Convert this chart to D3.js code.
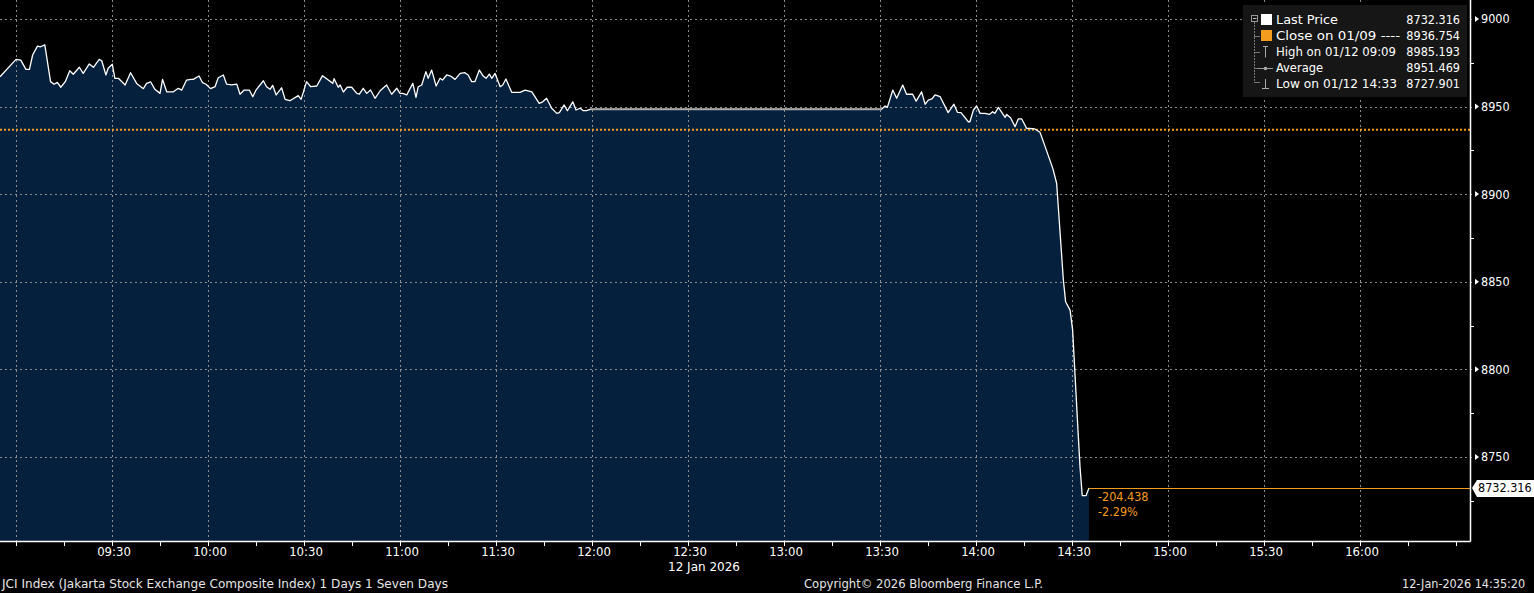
<!DOCTYPE html>
<html>
<head>
<meta charset="utf-8">
<script src="https://cdn.jsdelivr.net/npm/d3@7"></script>
<style>
  html, body { margin: 0; padding: 0; background: #000; }
  svg { display: block; }
  text { font-family: "DejaVu Sans Condensed", "DejaVu Sans", sans-serif; font-stretch: condensed; }
</style>
</head>
<body>
<svg id="chart" width="1534" height="593"></svg>
<script>
// ---------- DATA ----------
// minutes after 09:00 (12 Jan 2026, Jakarta time)
const minutes = [-5,0,1.5,3.1,4.2,5.2,6.7,7.7,9,10.8,11.9,12.9,14,15.4,16.8,17.9,19.8,21,22.9,24.2,26,26.8,28.1,28.8,30.1,30.9,32,34.1,35.8,37.7,39.8,40.8,42.1,43.4,45,45.8,47.1,49.2,50.7,51.8,53.3,54.6,55.4,57.2,58.3,59.4,60.8,62.2,63.2,64.8,65.8,67.4,69,70,71.3,72.9,74,75,77.3,78.3,79.4,80.2,81.3,83,84.1,85.6,88.2,89.1,90.8,92.1,94,95.8,97.6,99,99.4,100.7,101.3,102.3,103.5,104.9,106.5,107.3,108.5,109.6,110.8,112.2,113.8,115.8,117.4,119,120,120.8,122.1,124,125,125.7,126.8,128.1,128.8,129.9,131.3,132.5,133.3,134.6,135.8,137.2,138.8,140.3,141.3,142.4,143.4,144.8,146,146.9,147.9,148.7,149.7,151.3,152.1,153.1,154.9,157.5,159.1,161.2,163.5,164.6,165.8,167.4,169,169.8,171.3,172.3,174,175,176.3,177.3,178.3,179.4,270.5,271.6,272.3,274,275.2,277.1,278.3,280.2,281.3,283,284.1,285.1,286.2,287.2,288.8,291.3,293.1,294.2,295.3,297.6,298.1,299.2,300.2,301.3,302.8,304.2,305.2,305.9,307,309.1,309.6,310.8,312.2,313.2,314.3,315.8,318.4,320,321.6,324,325.2,326,327.3,328,329.4,330.2,331.7,332.5,333.2,334.4,335.3];
const prices = [8967.0,8976.9,8976.5,8971.2,8971.2,8979.4,8984.5,8984.1,8985.2,8964.2,8962.7,8963.8,8961.0,8964.2,8970.4,8968.4,8972.4,8968.9,8974.3,8972.4,8976.9,8976.1,8968.0,8971.8,8974.1,8966.1,8966.1,8962.3,8969.3,8963.2,8960.2,8963.2,8964.0,8959.8,8957.5,8965.5,8958.4,8958.4,8960.4,8959.4,8965.1,8965.5,8965.5,8967.4,8963.6,8962.7,8960.2,8961.3,8966.4,8968.0,8962.8,8962.3,8962.8,8957.0,8959.4,8959.4,8955.6,8959.4,8964.7,8961.3,8959.8,8962.1,8956.6,8960.7,8954.1,8953.3,8956.2,8954.1,8964.2,8961.3,8961.7,8967.6,8965.1,8963.2,8965.9,8961.0,8962.3,8958.3,8961.0,8961.0,8957.5,8957.1,8960.4,8957.5,8959.4,8954.7,8959.0,8962.3,8957.0,8960.4,8957.5,8957.5,8956.6,8963.2,8955.2,8961.3,8962.3,8969.9,8966.1,8970.8,8961.7,8966.1,8965.1,8968.0,8967.4,8965.5,8968.9,8969.3,8968.0,8964.2,8964.2,8970.8,8967.4,8966.1,8968.5,8966.1,8968.9,8961.3,8962.3,8965.7,8958.1,8958.1,8959.4,8958.4,8951.8,8952.7,8954.7,8949.0,8946.1,8946.5,8950.9,8947.6,8952.7,8948.0,8949.0,8947.6,8947.6,8948.4,8948.4,8950.3,8949.5,8959.4,8954.7,8962.3,8957.0,8957.0,8953.1,8958.4,8951.3,8953.7,8954.3,8956.6,8955.6,8946.5,8951.3,8946.7,8946.5,8941.3,8941.3,8948.0,8950.3,8946.1,8946.1,8945.5,8947.0,8946.1,8949.5,8943.8,8945.5,8943.6,8938.5,8942.9,8942.9,8937.6,8937.2,8935.3,8927.1,8914.7,8906.2,8885.2,8851.0,8838.6,8833.8,8822.4,8771.0,8744.4,8727.9,8727.9,8732.3];
const lunchBreak = [179.4, 270.5];          // flat, no-trading segment
const prevClose = 8936.754;
const lastPrice = 8732.316;
const changeLabels = ["-204.438", "-2.29%"];
const yTicks = [8750, 8800, 8850, 8900, 8950, 9000];
const yMinorTicks = [8725, 8775, 8825, 8875, 8925, 8975];
const xGridMinutes = [0,30,60,90,120,150,180,210,240,270,300,330,360,390,420];
const xTickLabels = ["09:30","10:00","10:30","11:00","11:30","12:00","12:30","13:00","13:30","14:00","14:30","15:00","15:30","16:00"];
const xTickLabelMinutes = [30,60,90,120,150,180,210,240,270,300,330,360,390,420];
const xMinorMinutes = d3.range(0, 451, 15);
const dateLabel = "12 Jan 2026";
const legendLabels = ["Last Price", "Close on 01/09 ----", "High on 01/12 09:09", "Average", "Low on 01/12 14:33"];
const legendValues = ["8732.316", "8936.754", "8985.193", "8951.469", "8727.901"];
const footerLeft = "JCI Index (Jakarta Stock Exchange Composite Index) 1 Days 1 Seven Days";
const footerMid = "Copyright\u00A9 2026 Bloomberg Finance L.P.";
const footerRight = "12-Jan-2026 14:35:20";

// ---------- LAYOUT ----------
const plotW = 1470, plotB = 541;
const svg = d3.select("#chart");
const x = d3.scaleLinear().domain([-5, 454.375]).range([0, plotW]);
const y = d3.scaleLinear().domain([8702.0, 9010.8]).range([plotB, 0]);
const data = minutes.map((m, i) => ({ m, v: prices[i] }));

const orange = "#f39c1e";
const gridCol = "#8c8c8c";

// area
svg.append("path").datum(data)
  .attr("fill", "#04203c")
  .attr("d", d3.area().x(d => x(d.m)).y0(plotB).y1(d => y(d.v)));

// grid
svg.append("g").selectAll("line").data(yTicks).join("line")
  .attr("x1", 0).attr("x2", plotW + 5)
  .attr("y1", d => Math.round(y(d)) + 0.5).attr("y2", d => Math.round(y(d)) + 0.5)
  .attr("stroke", gridCol).attr("stroke-width", 1).attr("stroke-dasharray", "2,3");
svg.append("g").selectAll("line").data(xGridMinutes).join("line")
  .attr("x1", d => Math.round(x(d)) + 0.5).attr("x2", d => Math.round(x(d)) + 0.5)
  .attr("y1", 0).attr("y2", plotB)
  .attr("stroke", gridCol).attr("stroke-width", 1).attr("stroke-dasharray", "2,3");

// previous close dotted line
svg.append("line")
  .attr("x1", 0).attr("x2", plotW)
  .attr("y1", y(prevClose)).attr("y2", y(prevClose))
  .attr("stroke", orange).attr("stroke-width", 2).attr("stroke-dasharray", "2,2");

// price line
const line = d3.line().x(d => x(d.m)).y(d => y(d.v));
svg.append("path").datum(data)
  .attr("fill", "none").attr("stroke", "#ffffff").attr("stroke-width", 1.3)
  .attr("stroke-linejoin", "round").attr("d", line);
// lunch break segment (grey)
svg.append("path").datum(data.filter(d => d.m >= lunchBreak[0] && d.m <= lunchBreak[1]))
  .attr("fill", "none").attr("stroke", "#a8a8a8").attr("stroke-width", 2).attr("d", line);

// last price line
const last = data[data.length - 1];
svg.append("line")
  .attr("x1", x(last.m)).attr("x2", plotW)
  .attr("y1", Math.round(y(lastPrice)) + 0.5).attr("y2", Math.round(y(lastPrice)) + 0.5)
  .attr("stroke", orange).attr("stroke-width", 1);
svg.append("g").selectAll("text").data(changeLabels).join("text")
  .attr("x", x(last.m) + 9).attr("y", (d, i) => y(lastPrice) + 13.5 + i * 15)
  .attr("fill", orange).attr("font-size", 12.5).text(d => d);

// axes frame
svg.append("line").attr("x1", 0).attr("x2", plotW + 0.5).attr("y1", plotB + 0.5).attr("y2", plotB + 0.5)
  .attr("stroke", "#fff").attr("stroke-width", 1.5);
svg.append("line").attr("x1", plotW + 0.5).attr("x2", plotW + 0.5).attr("y1", 0).attr("y2", plotB + 0.5)
  .attr("stroke", "#fff").attr("stroke-width", 1.5);

// x ticks
svg.append("g").selectAll("line").data(xMinorMinutes).join("line")
  .attr("x1", d => Math.round(x(d)) + 0.5).attr("x2", d => Math.round(x(d)) + 0.5)
  .attr("y1", plotB).attr("y2", plotB + 5).attr("stroke", "#fff").attr("stroke-width", 1);
svg.append("g").selectAll("text").data(xTickLabels).join("text")
  .attr("x", (d, i) => x(xTickLabelMinutes[i]) + 2).attr("y", 556)
  .attr("text-anchor", "middle").attr("fill", "#fff").attr("font-size", 13).text(d => d);
svg.append("text").attr("x", 668).attr("y", 571).attr("fill", "#fff").attr("font-size", 13)
  .attr("textLength", 72).attr("lengthAdjust", "spacingAndGlyphs").text(dateLabel);

// y ticks
svg.append("g").selectAll("line").data(yMinorTicks).join("line")
  .attr("x1", plotW).attr("x2", plotW + 4)
  .attr("y1", d => Math.round(y(d)) + 0.5).attr("y2", d => Math.round(y(d)) + 0.5)
  .attr("stroke", "#fff").attr("stroke-width", 1);
svg.append("g").selectAll("path").data(yTicks).join("path")
  .attr("d", d => { const yy = y(d); return `M${plotW + 5},${yy - 3}L${plotW + 9},${yy}L${plotW + 5},${yy + 3}Z`; })
  .attr("fill", "#fff");
svg.append("g").selectAll("text").data(yTicks).join("text")
  .attr("x", 1481).attr("y", d => y(d) + 4.5)
  .attr("fill", "#fff").attr("font-size", 12.5).text(d => d);

// last price tag
const ly = y(lastPrice);
svg.append("path")
  .attr("d", `M1472,${ly}L1477,${ly - 8}L1534,${ly - 8}L1534,${ly + 9}L1477,${ly + 9}Z`)
  .attr("fill", "#fff");
svg.append("text").attr("x", 1478).attr("y", ly + 4.5).attr("fill", "#000").attr("font-size", 12.5)
  .text(legendValues[0]);

// legend
const lg = svg.append("g");
lg.append("rect").attr("x", 1243).attr("y", 5).attr("width", 224).attr("height", 92).attr("fill", "#161616");
const rowY = legendLabels.map((d, i) => 24 + i * 16);
const labelWidths = [62, 124, 120, 47, 121];
// tree
lg.append("line").attr("x1", 1254.5).attr("x2", 1254.5).attr("y1", 22).attr("y2", 82.5)
  .attr("stroke", "#777").attr("stroke-dasharray", "2,1");
[36.5, 52.5, 68.5, 82.5].forEach(yy => {
  lg.append("line").attr("x1", 1254).attr("x2", 1260).attr("y1", yy).attr("y2", yy).attr("stroke", "#777");
});
lg.append("rect").attr("x", 1251.5).attr("y", 15.5).attr("width", 6).attr("height", 6)
  .attr("fill", "#161616").attr("stroke", "#999");
lg.append("line").attr("x1", 1253).attr("x2", 1256.5).attr("y1", 18.5).attr("y2", 18.5).attr("stroke", "#bbb");
// icons
lg.append("rect").attr("x", 1261).attr("y", 14).attr("width", 11).attr("height", 11).attr("fill", "#fff");
lg.append("rect").attr("x", 1261).attr("y", 30).attr("width", 11).attr("height", 11).attr("fill", orange);
lg.append("path").attr("d", "M1265.5,46V57.5M1263,46.5H1268").attr("stroke", "#aaa").attr("fill", "none");
lg.append("path").attr("d", "M1258,68.5H1273").attr("stroke", "#999").attr("fill", "none");
lg.append("circle").attr("cx", 1265.5).attr("cy", 68.5).attr("r", 1.8).attr("fill", "#aaa");
lg.append("path").attr("d", "M1265.5,79V88M1262,88.5H1269").attr("stroke", "#aaa").attr("fill", "none");
lg.selectAll("text.lab").data(legendLabels).join("text").attr("class", "lab")
  .attr("x", 1276).attr("y", (d, i) => rowY[i]).attr("fill", "#fff").attr("font-size", 13)
  .attr("textLength", (d, i) => labelWidths[i]).attr("lengthAdjust", "spacingAndGlyphs").text(d => d);
lg.selectAll("text.val").data(legendValues).join("text").attr("class", "val")
  .attr("x", 1460).attr("y", (d, i) => rowY[i]).attr("text-anchor", "end")
  .attr("fill", "#fff").attr("font-size", 12.5).text(d => d);

// footer
svg.append("text").attr("x", 2).attr("y", 588).attr("fill", "#e6e6e6").attr("font-size", 12.5)
  .attr("textLength", 446).attr("lengthAdjust", "spacingAndGlyphs").text(footerLeft);
svg.append("text").attr("x", 804).attr("y", 588).attr("fill", "#e6e6e6").attr("font-size", 12.5)
  .attr("textLength", 239).attr("lengthAdjust", "spacingAndGlyphs").text(footerMid);
svg.append("text").attr("x", 1402).attr("y", 588).attr("fill", "#e6e6e6").attr("font-size", 12.5).text(footerRight);
</script>
</body>
</html>
